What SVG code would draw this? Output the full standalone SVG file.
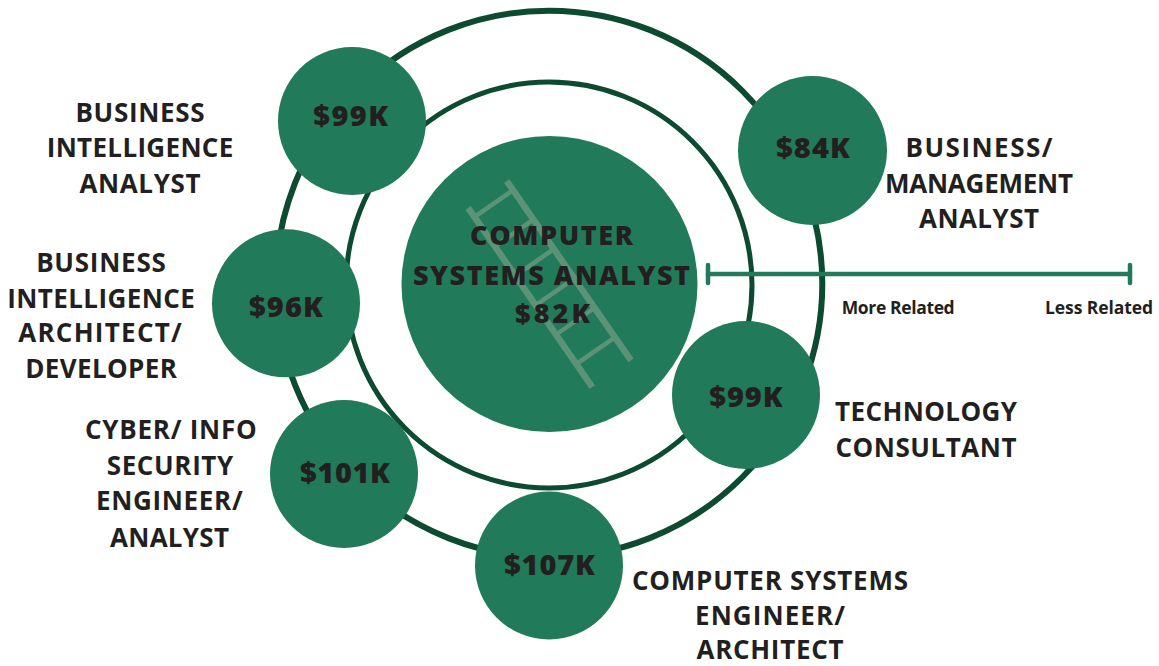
<svg xmlns="http://www.w3.org/2000/svg" width="1159" height="666" viewBox="0 0 1159 666">
<style>
  .ring { fill: none; stroke: #0c4a31; }
  .bub { fill: #217a59; }
  .lbl { font-family: "Open Sans", Lato, "Liberation Sans", sans-serif; font-weight: 700; font-size: 26px; fill: #231f20; text-anchor: middle; }
  .pay { font-family: "Open Sans", Lato, "Liberation Sans", sans-serif; font-weight: 800; font-size: 29px; fill: #231f20; text-anchor: middle; }
  .ctr { font-family: "Open Sans", Lato, "Liberation Sans", sans-serif; font-weight: 800; font-size: 27px; fill: #231f20; text-anchor: middle; }
  .rel { font-family: "Open Sans", Lato, "Liberation Sans", sans-serif; font-weight: 700; font-size: 17.5px; fill: #231f20; }
  .lad { fill: #5c9378; }
  .rung { stroke: #5c9378; stroke-width: 4.5; }
  .bar { stroke: #217a59; stroke-width: 4.5; stroke-linecap: round; fill: none; }
</style>
<rect width="1159" height="666" fill="#ffffff"/>

<g id="connectors">
  <circle class="ring" cx="549" cy="284" r="273.3" stroke-width="6"/>
  <circle class="ring" cx="549" cy="285" r="203" stroke-width="5"/>
</g>

<g id="scale-bar">
  <line class="bar" x1="708" y1="274" x2="1130" y2="274"/>
  <line class="bar" x1="708" y1="265" x2="708" y2="283" stroke-width="5"/>
  <line class="bar" x1="1130" y1="265" x2="1130" y2="283" stroke-width="5"/>
  <text class="rel" x="841.7" y="314" textLength="113" lengthAdjust="spacing">More Related</text>
  <text class="rel" x="1045" y="314" textLength="108" lengthAdjust="spacing">Less Related</text>
</g>

<g id="computer-systems-analyst">
  <circle class="bub" cx="549.5" cy="284" r="148"/>
  <g transform="translate(468,208) rotate(-34.7)">
    <rect class="lad" x="-3" y="0" width="6.5" height="218"/>
    <rect class="lad" x="44" y="0" width="6.5" height="218"/>
    <line class="rung" x1="0" y1="11" x2="47" y2="11"/>
    <line class="rung" x1="0" y1="46.8" x2="47" y2="46.8"/>
    <line class="rung" x1="0" y1="82.6" x2="47" y2="82.6"/>
    <line class="rung" x1="0" y1="118.4" x2="47" y2="118.4"/>
    <line class="rung" x1="0" y1="154.2" x2="47" y2="154.2"/>
    <line class="rung" x1="0" y1="190" x2="47" y2="190"/>
  </g>
  <text class="ctr" x="551.5" y="245" textLength="163" lengthAdjust="spacing">COMPUTER</text>
  <text class="ctr" x="551.5" y="284.5" textLength="277" lengthAdjust="spacing">SYSTEMS ANALYST</text>
  <text class="ctr" x="552.5" y="323" textLength="75" lengthAdjust="spacing">$82K</text>
</g>

<g id="business-intelligence-analyst">
  <circle class="bub" cx="352" cy="121" r="74"/>
  <text class="pay" x="350.7" y="126" textLength="75" lengthAdjust="spacing">$99K</text>
  <text class="lbl" x="140" y="122" textLength="129" lengthAdjust="spacing">BUSINESS</text>
  <text class="lbl" x="140" y="157" textLength="186.6" lengthAdjust="spacing">INTELLIGENCE</text>
  <text class="lbl" x="140" y="193" textLength="121" lengthAdjust="spacing">ANALYST</text>
</g>

<g id="business-management-analyst">
  <circle class="bub" cx="812.5" cy="150.5" r="74.5"/>
  <text class="pay" x="813" y="158" textLength="74" lengthAdjust="spacing">$84K</text>
  <text class="lbl" x="979" y="157" textLength="147" lengthAdjust="spacing">BUSINESS/</text>
  <text class="lbl" x="979" y="193" textLength="188" lengthAdjust="spacing">MANAGEMENT</text>
  <text class="lbl" x="979" y="228" textLength="120" lengthAdjust="spacing">ANALYST</text>
</g>

<g id="business-intelligence-architect">
  <circle class="bub" cx="286" cy="303.3" r="74"/>
  <text class="pay" x="286" y="316.5" textLength="74" lengthAdjust="spacing">$96K</text>
  <text class="lbl" x="101" y="272" textLength="129.7" lengthAdjust="spacing">BUSINESS</text>
  <text class="lbl" x="101" y="307.5" textLength="187.7" lengthAdjust="spacing">INTELLIGENCE</text>
  <text class="lbl" x="100" y="342" textLength="163.7" lengthAdjust="spacing">ARCHITECT/</text>
  <text class="lbl" x="101" y="378" textLength="151.7" lengthAdjust="spacing">DEVELOPER</text>
</g>

<g id="technology-consultant">
  <circle class="bub" cx="746" cy="395" r="74"/>
  <text class="pay" x="746" y="407" textLength="73.4" lengthAdjust="spacing">$99K</text>
  <text class="lbl" x="926" y="421" textLength="182" lengthAdjust="spacing">TECHNOLOGY</text>
  <text class="lbl" x="926" y="457" textLength="181" lengthAdjust="spacing">CONSULTANT</text>
</g>

<g id="cyber-security-engineer">
  <circle class="bub" cx="344" cy="474" r="74"/>
  <text class="pay" x="345" y="483" textLength="90" lengthAdjust="spacing">$101K</text>
  <text class="lbl" x="170.8" y="439" textLength="171.7" lengthAdjust="spacing">CYBER/ INFO</text>
  <text class="lbl" x="170" y="475" textLength="126.6" lengthAdjust="spacing">SECURITY</text>
  <text class="lbl" x="169.3" y="510" textLength="146.7" lengthAdjust="spacing">ENGINEER/</text>
  <text class="lbl" x="169.5" y="546.5" textLength="119" lengthAdjust="spacing">ANALYST</text>
</g>

<g id="computer-systems-engineer">
  <circle class="bub" cx="549" cy="565.5" r="74"/>
  <text class="pay" x="549.5" y="575" textLength="91" lengthAdjust="spacing">$107K</text>
  <text class="lbl" x="770" y="589.5" textLength="276" lengthAdjust="spacing">COMPUTER SYSTEMS</text>
  <text class="lbl" x="770" y="624.5" textLength="150" lengthAdjust="spacing">ENGINEER/</text>
  <text class="lbl" x="770" y="658.5" textLength="147" lengthAdjust="spacing">ARCHITECT</text>
</g>
</svg>
